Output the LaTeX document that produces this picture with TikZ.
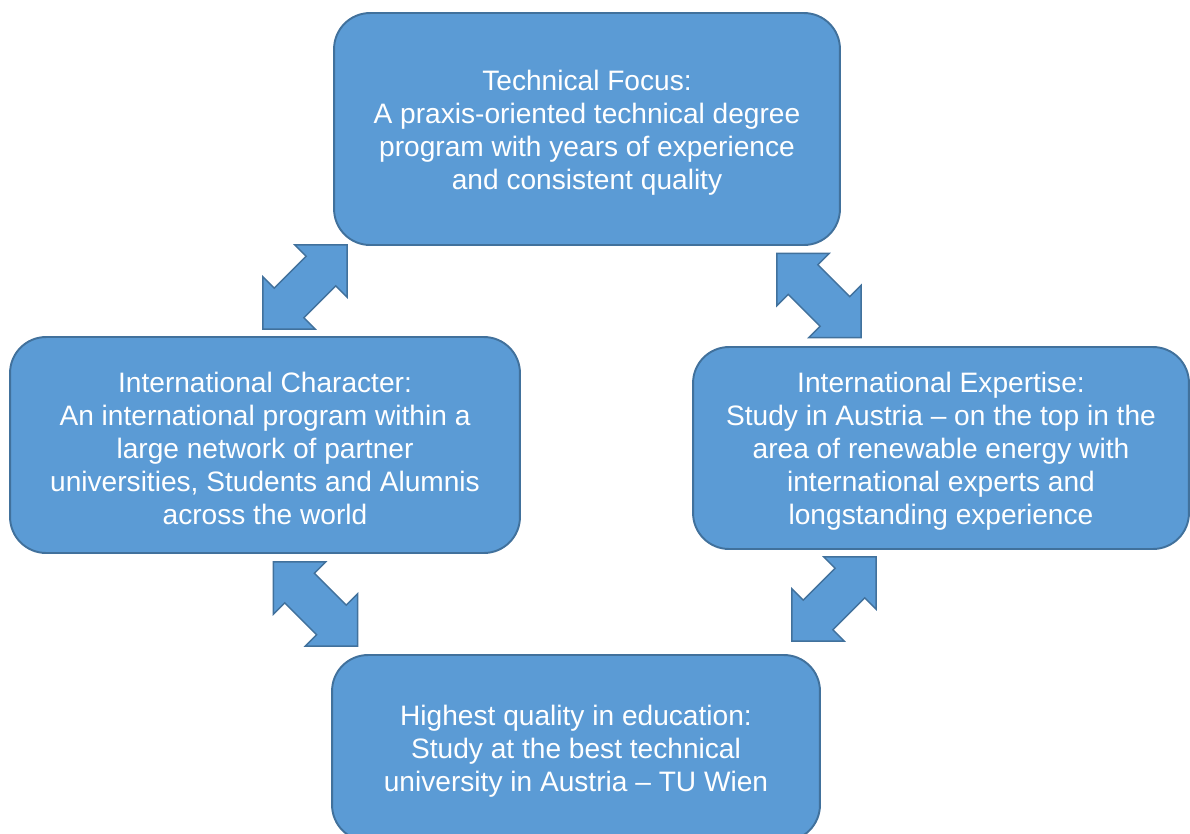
\documentclass[tikz,border=0pt]{standalone}
\usepackage{fontspec}
\setmainfont{Liberation Sans}
\definecolor{boxfill}{HTML}{5B9BD5}
\definecolor{boxline}{HTML}{41719C}
\newcommand{\toppad}{\rule{0pt}{15.5pt}}
\tikzset{
  box/.style={draw=boxline, fill=boxfill, line width=1.1pt, rounded corners=0.72cm,
    text=white, align=center, inner sep=0pt,
    font=\fontsize{16}{18.8}\selectfont},
  dblarrow/.pic={
    \filldraw[draw=boxline, fill=boxfill, line width=0.8pt, line join=miter]
      (-59.5,0) -- (-22.5,37) -- (-22.5,21) -- (22.5,21) -- (22.5,37) -- (59.5,0)
      -- (22.5,-37) -- (22.5,-21) -- (-22.5,-21) -- (-22.5,-37) -- cycle;
  }
}
\begin{document}
\begin{tikzpicture}[x=0.02cm, y=-0.02cm]
\useasboundingbox[fill=white] (0,0) rectangle (1190,833);
\begin{scope}
\clip (0,0) rectangle (1190,833);
\node[box, minimum width=10.12cm, minimum height=4.64cm] (top) at (587,129)
  {\toppad Technical Focus:\\A praxis-oriented technical degree\\program with years of experience\\and consistent quality};
\node[box, minimum width=10.2cm, minimum height=4.32cm] (left) at (265,445)
  {\toppad International Character:\\An international program within a\\large network of partner\\universities, Students and Alumnis\\across the world};
\node[box, minimum width=9.92cm, minimum height=4.04cm] (right) at (941,448)
  {\toppad International Expertise:\\Study in Austria – on the top in the\\area of renewable energy with\\international experts and\\longstanding experience};
\node[box, minimum width=9.76cm, minimum height=3.72cm] (bottom) at (576,748)
  {\toppad Highest quality in education:\\Study at the best technical\\university in Austria – TU Wien};
\pic[rotate=45] (a1) at (305,287) {dblarrow};
\pic[rotate=-45] (a2) at (819,295.5) {dblarrow};
\pic[rotate=-45] (a3) at (315.5,604) {dblarrow};
\pic[rotate=45] (a4) at (834,599) {dblarrow};
\end{scope}
\end{tikzpicture}
\end{document}
